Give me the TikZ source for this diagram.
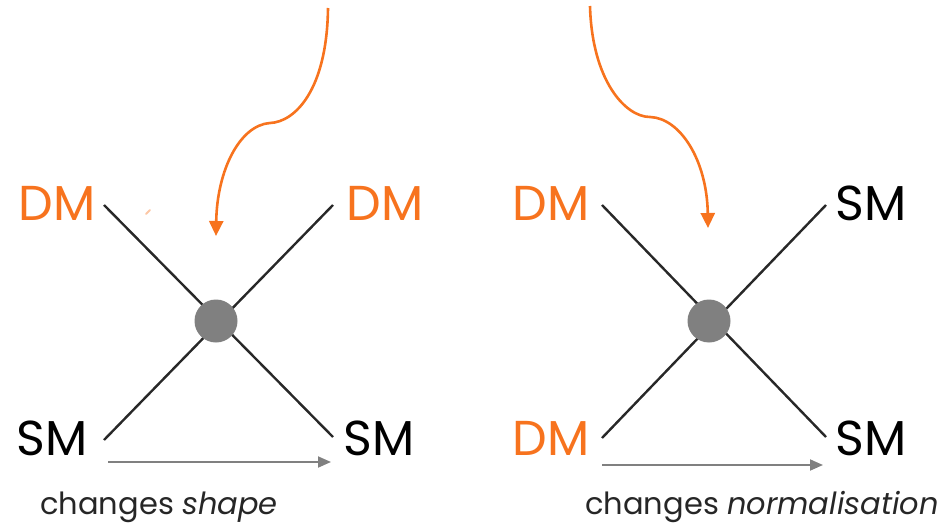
\documentclass[tikz,border=0pt]{standalone}
\usepackage{fontspec}
\setmainfont{Poppins}
\usetikzlibrary{arrows.meta}
\definecolor{orng}{RGB}{247,115,30}
\definecolor{ln}{RGB}{40,40,40}
\definecolor{dotg}{RGB}{128,128,128}
\begin{document}
\begin{tikzpicture}[x=1pt,y=-1pt,
  lbl/.style={inner sep=0pt,font=\fontsize{49}{49}\selectfont},
  dm/.style={lbl,text=orng},
  sm/.style={lbl,text=black},
  xline/.style={draw=ln,line width=2.4pt},
  dot/.style={circle,fill=dotg,minimum size=43pt,inner sep=0pt},
  garrow/.style={draw=dotg,line width=1.8pt,-{Triangle[length=13pt,width=11pt]}},
  oarrow/.style={draw=orng,line width=2.6pt,-{Triangle[length=15pt,width=14pt]}},
  captext/.style={inner sep=0pt,font=\fontsize{30.5}{30.5}\selectfont,text=black!85}]
\useasboundingbox (0,0) rectangle (943,527);
% left diagram
\coordinate (a1) at (104,205);
\coordinate (a2) at (333,437);
\coordinate (a3) at (104,440);
\coordinate (a4) at (333,205);
\draw[xline] (a1) -- (a2);
\draw[xline] (a3) -- (a4);
\node[dot] (c1) at (216,321) {};
\node[dm] (l1) at (57,203) {DM};
\node[dm] (l2) at (385,203) {DM};
\node[sm] (l3) at (52,438) {SM};
\node[sm] (l4) at (379,438) {SM};
% right diagram
\coordinate (b1) at (602,205);
\coordinate (b2) at (826,437);
\coordinate (b3) at (602,438);
\coordinate (b4) at (826,205);
\draw[xline] (b1) -- (b2);
\draw[xline] (b3) -- (b4);
\node[dot] (c2) at (709,321) {};
\node[dm] (r1) at (551,203) {DM};
\node[sm] (r2) at (871,203) {SM};
\node[dm] (r3) at (551,438) {DM};
\node[sm] (r4) at (871,438) {SM};
% gray arrows
\coordinate (g1s) at (108,462);
\coordinate (g1e) at (331,462);
\draw[garrow] (g1s) -- (g1e);
\coordinate (g2s) at (602,465);
\coordinate (g2e) at (823,465);
\draw[garrow] (g2s) -- (g2e);
\node[captext] (t1) at (159,507) {changes \textit{shape}};
\node[captext] (t2) at (762,507) {changes \textit{normalisation}};
% orange curves
\coordinate (o1s) at (328,8);
\coordinate (o1m) at (270,123);
\coordinate (o1e) at (216,236);
\draw[oarrow] (o1s) .. controls (327,90) and (295,122) .. (o1m) .. controls (240,125) and (217,170) .. (o1e);
\coordinate (o2s) at (590,6);
\coordinate (o2m) at (650,117);
\coordinate (o2e) at (708,228);
\draw[oarrow] (o2s) .. controls (592,80) and (625,117) .. (o2m) .. controls (680,118) and (707,160) .. (o2e);
% small speck
\coordinate (s1) at (146,214);
\coordinate (s2) at (150,210);
\draw[orng!40,line width=2pt,line cap=round] (s1) -- (s2);
\end{tikzpicture}
\end{document}
